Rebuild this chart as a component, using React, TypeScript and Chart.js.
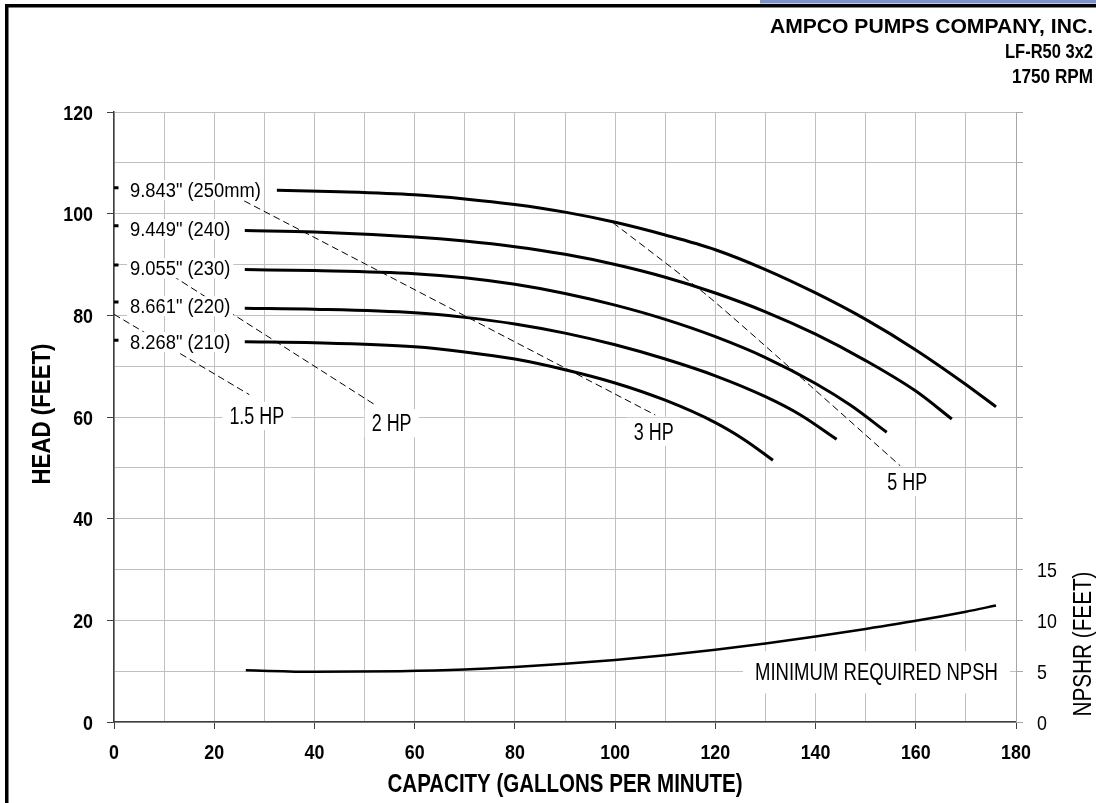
import React, { useEffect, useRef } from "react";
import { Chart, registerables } from "chart.js";

Chart.register(...registerables);

// ---------------- data ----------------
const capacityTicks = [0, 20, 40, 60, 80, 100, 120, 140, 160, 180];
const headTicks = [0, 20, 40, 60, 80, 100, 120];
const npshTicks = [0, 5, 10, 15];

const titleLines = ["AMPCO PUMPS COMPANY, INC.", "LF-R50 3x2", "1750 RPM"];
const xTitle = "CAPACITY (GALLONS PER MINUTE)";
const yTitle = "HEAD (FEET)";
const y2Title = "NPSHR (FEET)";
const npshLabel = "MINIMUM REQUIRED NPSH";

const impellerLabels = ['9.843" (250mm)', '9.449" (240)', '9.055" (230)', '8.661" (220)', '8.268" (210)'];
const shutoffMarks = [105.1, 97.6, 89.9, 82.6, 75.1];

const cap250 = [32.5, 45, 60, 70, 80, 90, 100, 110, 120, 130, 140, 150, 160, 170, 176];
const head250 = [104.6, 104.3, 103.7, 102.9, 101.8, 100.3, 98.3, 95.8, 92.9, 89.0, 84.4, 79.2, 73.2, 66.4, 62.0];

const cap240 = [26.1, 40, 60, 70, 80, 90, 100, 110, 120, 130, 140, 150, 160, 167.2];
const head240 = [96.7, 96.4, 95.4, 94.6, 93.5, 92.0, 90.0, 87.5, 84.4, 80.7, 76.3, 71.1, 65.1, 59.6];

const cap230 = [26.1, 40, 60, 70, 80, 90, 100, 110, 120, 130, 140, 147, 154.2];
const head230 = [89.0, 88.8, 88.2, 87.4, 86.1, 84.3, 82.0, 79.2, 75.8, 71.7, 66.6, 62.3, 57.0];

const cap220 = [26.1, 40, 60, 70, 80, 90, 100, 110, 120, 130, 137, 144.2];
const head220 = [81.4, 81.2, 80.5, 79.6, 78.3, 76.5, 74.2, 71.4, 68.1, 64.0, 60.4, 55.6];

const cap210 = [26.1, 40, 60, 70, 80, 90, 100, 110, 120, 126, 131.5];
const head210 = [74.8, 74.6, 73.8, 72.8, 71.4, 69.3, 66.7, 63.3, 58.9, 55.4, 51.5];

const hpLabels = ["1.5 HP", "2 HP", "3 HP", "5 HP"];
const hp15Cap = [0, 27.0];
const hp15Head = [80.2, 64.4];
const hp2Cap = [8, 52.4];
const hp2Head = [90.1, 62.2];
const hp3Cap = [26, 108];
const hp3Head = [102.5, 60.4];
const hp5Cap = [99.6, 118.5, 138.2, 156.9];
const hp5Head = [98.2, 83.8, 66.8, 50.4];
const hpLabelCap = [28.5, 55.4, 107.7, 158.3];
const hpLabelHead = [60.2, 58.8, 57.1, 47.2];

const npshCap = [26.3, 40, 57, 70, 80, 90, 100, 110, 120, 130, 140, 150, 160, 170, 176];
const npshFeet = [5.08, 4.94, 5.0, 5.16, 5.4, 5.72, 6.1, 6.56, 7.1, 7.72, 8.4, 9.15, 9.95, 10.85, 11.45];

// ---------------- helpers ----------------
const FONT = '"Liberation Sans", Arial, Helvetica, sans-serif';

type TxtOpts = {
  size: number;
  bold?: boolean;
  sx?: number;
  width?: number;
  align?: "left" | "center" | "right";
  rot?: number;
  bg?: [number, number];
};

function txt(ctx: CanvasRenderingContext2D, s: string, x: number, y: number, o: TxtOpts) {
  ctx.save();
  ctx.font = `${o.bold ? "bold " : ""}${o.size}px ${FONT}`;
  const w0 = ctx.measureText(s).width;
  const sx = o.width ? o.width / w0 : o.sx ?? 1;
  const w = w0 * sx;
  ctx.translate(x, y);
  if (o.rot) ctx.rotate(o.rot);
  const left = o.align === "right" ? -w : o.align === "center" ? -w / 2 : 0;
  if (o.bg) {
    ctx.fillStyle = "#ffffff";
    ctx.fillRect(left - o.bg[0], -o.bg[1], w + 2 * o.bg[0], 2 * o.bg[1]);
  }
  ctx.scale(sx, 1);
  ctx.fillStyle = "#000000";
  ctx.textAlign = "left";
  ctx.textBaseline = "alphabetic";
  ctx.fillText(s, left / sx, 0.358 * o.size);
  ctx.restore();
}

const pts = (xs: number[], ys: number[]) => xs.map((x, i) => ({ x, y: ys[i] }));

const tickCol = (c: any) =>
  c.tick && Math.round(c.tick.value) % 20 === 0 ? "#404040" : "rgba(0,0,0,0)";

export default function App() {
  const ref = useRef<HTMLCanvasElement | null>(null);

  useEffect(() => {
    document.body.style.margin = "0";
    const canvas = ref.current!;
    const curve = (xs: number[], ys: number[]) => ({
      data: pts(xs, ys),
      borderColor: "#000",
      borderWidth: 3,
      pointRadius: 0,
      cubicInterpolationMode: "monotone" as const,
      fill: false,
    });
    const dashed = (xs: number[], ys: number[]) => ({
      data: pts(xs, ys),
      borderColor: "#000",
      borderWidth: 1,
      borderDash: [7, 4],
      pointRadius: 0,
      tension: 0.2,
      fill: false,
    });
    const markerData: any[] = [];
    shutoffMarks.forEach((h) => {
      markerData.push({ x: 0, y: h }, { x: 0.9, y: h }, { x: 0.95, y: null });
    });

    const textPlugin = {
      id: "texts",
      beforeDraw(chart: any) {
        const c = chart.ctx as CanvasRenderingContext2D;
        c.save();
        c.fillStyle = "#fff";
        c.fillRect(0, 0, chart.width, chart.height);
        c.restore();
      },
      afterDatasetsDraw(chart: any) {
        const c = chart.ctx as CanvasRenderingContext2D;
        const xs = chart.scales.x;
        const ys = chart.scales.y;
        const starts = [head250[0], head240[0], head230[0], head220[0], head210[0]];
        impellerLabels.forEach((s, i) => {
          const y = (ys.getPixelForValue(starts[i]) + ys.getPixelForValue(shutoffMarks[i])) / 2 + 1;
          txt(c, s, xs.getPixelForValue(3.2), y, { size: 19.5, sx: 0.94, bg: [3, 10] });
        });
        hpLabels.forEach((s, i) => {
          txt(c, s, xs.getPixelForValue(hpLabelCap[i]), ys.getPixelForValue(hpLabelHead[i]), {
            size: 23,
            sx: 0.78,
            align: "center",
            bg: [7, 14],
          });
        });
        txt(c, npshLabel, xs.getPixelForValue(176.4), ys.getPixelForValue(9.8), {
          size: 23,
          width: 243,
          align: "right",
          bg: [12, 21],
        });
      },
      afterDraw(chart: any) {
        const c = chart.ctx as CanvasRenderingContext2D;
        const xs = chart.scales.x;
        const ys = chart.scales.y;
        const y2s = chart.scales.y2;
        capacityTicks.forEach((v) =>
          txt(c, String(v), xs.getPixelForValue(v), 751, { size: 21, bold: true, sx: 0.85, align: "center" })
        );
        headTicks.forEach((v) =>
          txt(c, String(v), 93, ys.getPixelForValue(v), { size: 21, bold: true, sx: 0.85, align: "right" })
        );
        npshTicks.forEach((v) =>
          txt(c, String(v), 1037, y2s.getPixelForValue(v), { size: 21, sx: 0.85, align: "left" })
        );
        txt(c, xTitle, (xs.left + xs.right) / 2, 783, { size: 25, bold: true, sx: 0.82, align: "center" });
        txt(c, yTitle, 41, 414, { size: 25, bold: true, width: 141, align: "center", rot: -Math.PI / 2 });
        txt(c, y2Title, 1082, 644, { size: 26, width: 145, align: "center", rot: -Math.PI / 2 });
        const tw = [323, 88, 81];
        titleLines.forEach((s, i) =>
          txt(c, s, 1093, 25 + i * 25, { size: 21, bold: true, width: tw[i], align: "right" })
        );
        // frame
        c.save();
        c.fillStyle = "#7f92c4";
        c.fillRect(760, 0, 336, 3.5);
        c.fillStyle = "#000";
        c.fillRect(5, 4, 1091, 3.5);
        c.fillRect(5, 4, 3.5, 799);
        c.restore();
      },
    };

    const chart = new Chart(canvas, {
      type: "line",
      data: {
        datasets: [
          curve(cap250, head250),
          curve(cap240, head240),
          curve(cap230, head230),
          curve(cap220, head220),
          curve(cap210, head210),
          dashed(hp15Cap, hp15Head),
          dashed(hp2Cap, hp2Head),
          dashed(hp3Cap, hp3Head),
          dashed(hp5Cap, hp5Head),
          {
            data: pts(npshCap, npshFeet),
            yAxisID: "y2",
            borderColor: "#000",
            borderWidth: 2.5,
            pointRadius: 0,
            cubicInterpolationMode: "monotone",
            fill: false,
          } as any,
          {
            data: markerData,
            borderColor: "#000",
            borderWidth: 3,
            pointRadius: 0,
            spanGaps: false,
            fill: false,
          } as any,
        ],
      },
      options: {
        responsive: false,
        animation: false,
        devicePixelRatio: 1,
        layout: { padding: { top: 112, left: 0, right: 0, bottom: 0 } },
        plugins: { legend: { display: false }, tooltip: { enabled: false }, title: { display: false } },
        scales: {
          x: {
            type: "linear",
            min: 0,
            max: 180,
            ticks: { stepSize: 10, display: false },
            grid: { color: "#c0c0c0", lineWidth: 1, tickLength: 7, tickColor: tickCol },
            border: { color: "#404040", width: 1.5 },
            afterFit: (s: any) => {
              s.height = 81;
            },
          },
          y: {
            type: "linear",
            position: "left",
            min: 0,
            max: 120,
            ticks: { stepSize: 10, display: false },
            grid: { color: "#c0c0c0", lineWidth: 1, tickLength: 7, tickColor: tickCol },
            border: { color: "#404040", width: 1.5 },
            afterFit: (s: any) => {
              s.width = 114;
            },
          },
          y2: {
            type: "linear",
            position: "right",
            min: 0,
            max: 60,
            ticks: { stepSize: 5, display: false },
            grid: { drawOnChartArea: false, tickLength: 7, tickColor: "#a8a8a8" },
            border: { color: "#a8a8a8", width: 1 },
            afterFit: (s: any) => {
              s.width = 80;
            },
          },
        },
      } as any,
      plugins: [textPlugin],
    });
    return () => chart.destroy();
  }, []);

  return (
    <div style={{ width: 1096, height: 803, position: "relative" }}>
      <canvas ref={ref} width={1096} height={803} style={{ width: 1096, height: 803, display: "block" }} />
    </div>
  );
}
